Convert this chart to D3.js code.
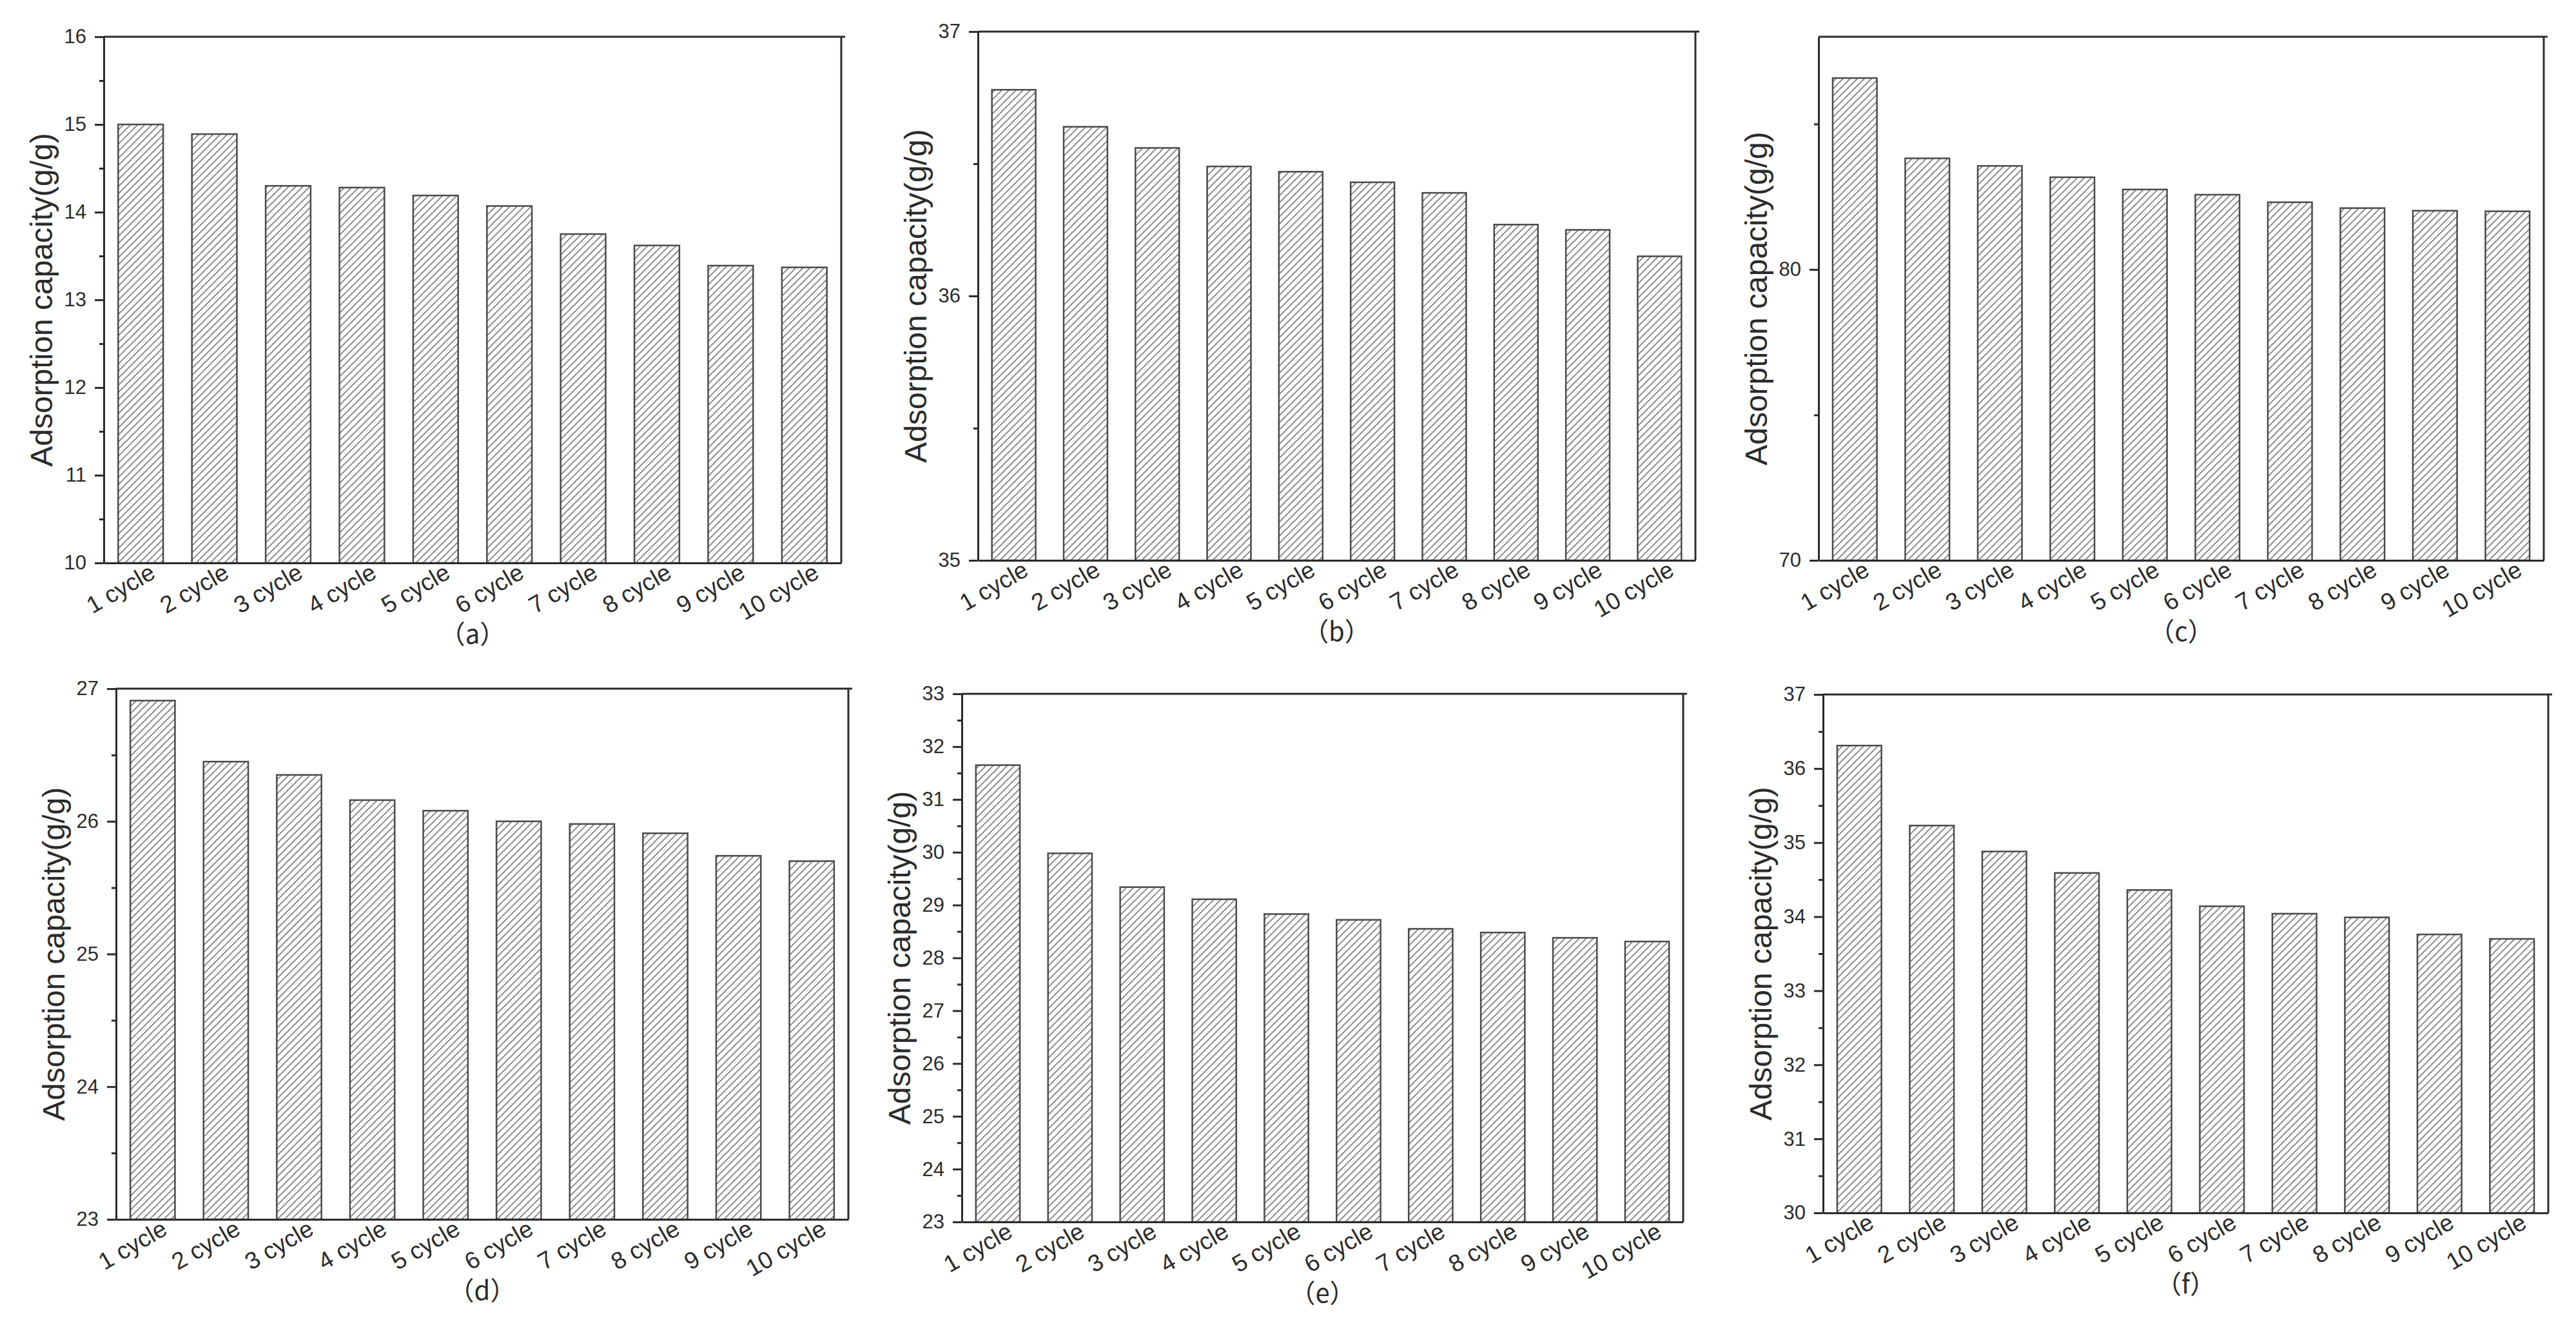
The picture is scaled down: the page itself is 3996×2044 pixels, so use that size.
<!DOCTYPE html>
<html>
<head>
<meta charset="utf-8">
<script src="https://cdn.jsdelivr.net/npm/d3@7"></script>
<style>
  body { margin: 0; background: #fff; }
  svg { display: block; }
</style>
</head>
<body>
<svg id="chart" width="3996" height="2044"></svg>
<script>
const width = 3996;
const height = 2044;

// data
const categories = ["1 cycle", "2 cycle", "3 cycle", "4 cycle", "5 cycle",
  "6 cycle", "7 cycle", "8 cycle", "9 cycle", "10 cycle"];
const captions = ["（a）", "（b）", "（c）", "（d）", "（e）", "（f）"];

const valuesA = [15.0, 14.89, 14.3, 14.28, 14.19, 14.07, 13.75, 13.62, 13.39, 13.37];
const valuesB = [36.78, 36.64, 36.56, 36.49, 36.47, 36.43, 36.39, 36.27, 36.25, 36.15];
const valuesC = [86.58, 83.82, 83.56, 83.17, 82.75, 82.57, 82.31, 82.11, 82.02, 82.0];
const valuesD = [26.91, 26.45, 26.35, 26.16, 26.08, 26.0, 25.98, 25.91, 25.74, 25.7];
const valuesE = [31.65, 29.98, 29.34, 29.11, 28.83, 28.72, 28.55, 28.48, 28.38, 28.31];
const valuesF = [36.31, 35.23, 34.88, 34.59, 34.36, 34.14, 34.04, 33.99, 33.76, 33.7];

const yDomains = [[10, 16], [35, 37], [70, 88], [23, 27], [23, 33], [30, 37]];
const majorTicks = [
  [10, 11, 12, 13, 14, 15, 16],
  [35, 36, 37],
  [70, 80],
  [23, 24, 25, 26, 27],
  [23, 24, 25, 26, 27, 28, 29, 30, 31, 32, 33],
  [30, 31, 32, 33, 34, 35, 36, 37]
];
const minorTicks = [
  [10.5, 11.5, 12.5, 13.5, 14.5, 15.5],
  [35.5, 36.5],
  [75, 85],
  [23.5, 24.5, 25.5, 26.5],
  [23.5, 24.5, 25.5, 26.5, 27.5, 28.5, 29.5, 30.5, 31.5, 32.5],
  [30.5, 31.5, 32.5, 33.5, 34.5, 35.5, 36.5]
];
const yTitle = "Adsorption capacity(g/g)";

// panel boxes (plot area) in page pixels
const boxes = [
  { x0: 161, x1: 1305, y0: 57, y1: 873 },
  { x0: 1517, x1: 2630, y0: 49, y1: 869 },
  { x0: 2821, x1: 3946, y0: 57, y1: 869 },
  { x0: 180, x1: 1316, y0: 1068, y1: 1891 },
  { x0: 1492, x1: 2611, y0: 1076, y1: 1895 },
  { x0: 2828, x1: 3953, y0: 1077, y1: 1881 }
];

const series = [valuesA, valuesB, valuesC, valuesD, valuesE, valuesF];

const ink = "#2b2b2b";
const font = "'Liberation Sans', Arial, sans-serif";

const svg = d3.select("#chart");

// diagonal hatch used by every bar
const defs = svg.append("defs");
defs.append("pattern")
  .attr("id", "hatch")
  .attr("patternUnits", "userSpaceOnUse")
  .attr("width", 11)
  .attr("height", 11)
  .call(p => p.append("rect").attr("width", 11).attr("height", 11).attr("fill", "#fff"))
  .call(p => p.append("path")
    .attr("d", "M-2,2 L2,-2 M0,11 L11,0 M9,13 L13,9")
    .attr("stroke", "#858585")
    .attr("stroke-width", 1.9));

series.forEach((values, i) => {
  const b = boxes[i];
  const g = svg.append("g");

  const x = d3.scaleBand()
    .domain(categories)
    .range([b.x0, b.x1])
    .paddingInner(0.39)
    .paddingOuter(0.195);

  const y = d3.scaleLinear()
    .domain(yDomains[i])
    .range([b.y1, b.y0]);

  // bars
  g.append("g")
    .selectAll("rect")
    .data(values)
    .join("rect")
    .attr("x", (d, j) => x(categories[j]))
    .attr("width", x.bandwidth())
    .attr("y", d => y(d))
    .attr("height", d => y(yDomains[i][0]) - y(d))
    .attr("fill", "url(#hatch)")
    .attr("stroke", "#4a4a4a")
    .attr("stroke-width", 2.5);

  // frame: top and right
  g.append("line")
    .attr("x1", b.x0).attr("x2", b.x1 + 6)
    .attr("y1", b.y0).attr("y2", b.y0)
    .attr("stroke", ink).attr("stroke-width", 3);
  g.append("line")
    .attr("x1", b.x1).attr("x2", b.x1)
    .attr("y1", b.y0).attr("y2", b.y1)
    .attr("stroke", ink).attr("stroke-width", 3);

  // bottom axis, labels only
  g.append("g")
    .attr("transform", `translate(0,${b.y1})`)
    .call(d3.axisBottom(x).tickSize(0).tickSizeOuter(0).tickPadding(0))
    .call(a => a.select(".domain").attr("stroke", ink).attr("stroke-width", 3))
    .call(a => a.selectAll(".tick text")
      .attr("font-family", font)
      .attr("font-size", 37)
      .attr("fill", ink)
      .attr("text-anchor", "end")
      .attr("dy", 0)
      .attr("y", 0)
      .attr("transform", "translate(25,22) rotate(-30)"));

  // minor ticks on the left
  g.append("g")
    .attr("transform", `translate(${b.x0},0)`)
    .call(d3.axisLeft(y).tickValues(minorTicks[i]).tickSize(7).tickFormat(""))
    .call(a => a.select(".domain").remove())
    .call(a => a.selectAll(".tick line").attr("stroke", ink).attr("stroke-width", 3));

  // major ticks + labels on the left
  g.append("g")
    .attr("transform", `translate(${b.x0},0)`)
    .call(d3.axisLeft(y).tickValues(majorTicks[i]).tickFormat(d3.format("d"))
      .tickSize(14).tickSizeOuter(0).tickPadding(13))
    .call(a => a.select(".domain").attr("stroke", ink).attr("stroke-width", 3))
    .call(a => a.selectAll(".tick line").attr("stroke", ink).attr("stroke-width", 3))
    .call(a => a.selectAll(".tick text")
      .attr("font-family", font)
      .attr("font-size", 31)
      .attr("fill", ink));

  // y title
  g.append("text")
    .attr("transform", `translate(${b.x0 - 97},${(b.y0 + b.y1) / 2}) rotate(-90)`)
    .attr("text-anchor", "middle")
    .attr("dominant-baseline", "central")
    .attr("font-family", font)
    .attr("font-size", 48)
    .attr("fill", ink)
    .text(yTitle);

  // panel caption
  g.append("text")
    .attr("x", (b.x0 + b.x1) / 2)
    .attr("y", b.y1 + 108)
    .attr("text-anchor", "middle")
    .attr("dominant-baseline", "central")
    .attr("font-family", "'Noto Sans CJK SC', " + font)
    .attr("font-size", 40)
    .attr("fill", ink)
    .text(captions[i]);
});
</script>
</body>
</html>
